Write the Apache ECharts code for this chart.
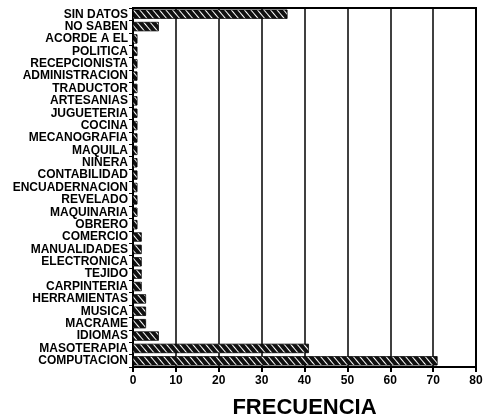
<!DOCTYPE html>
<html><head><meta charset="utf-8">
<script src="https://cdn.jsdelivr.net/npm/echarts@6/dist/echarts.min.js"></script>
<style>html,body{margin:0;padding:0;background:#fff}#c{width:483px;height:417px}</style>
</head><body><div id="c"></div>
<script>
const categories = ["COMPUTACION","MASOTERAPIA","IDIOMAS","MACRAME","MUSICA","HERRAMIENTAS","CARPINTERIA","TEJIDO","ELECTRONICA","MANUALIDADES","COMERCIO","OBRERO","MAQUINARIA","REVELADO","ENCUADERNACION","CONTABILIDAD","NINERA","MAQUILA","MECANOGRAFIA","COCINA","JUGUETERIA","ARTESANIAS","TRADUCTOR","ADMINISTRACION","RECEPCIONISTA","POLITICA","ACORDE A EL","NO SABEN","SIN DATOS"];
const frecuencia = [71,41,6,3,3,3,2,2,2,2,2,1,1,1,1,1,1,1,1,1,1,1,1,1,1,1,1,6,36];
const xTicks = [0,10,20,30,40,50,60,70,80];

const chart = echarts.init(document.getElementById('c'));
chart.setOption({
  animation:false,
  grid:{left:133,right:7,top:8,bottom:50,show:true,borderColor:'#000',borderWidth:2,
    containLabel:false,outerBoundsMode:'none'},
  xAxis:{type:'value',min:0,max:80,interval:10,
    name:'FRECUENCIA',nameLocation:'middle',nameGap:30,
    nameTextStyle:{fontFamily:'Liberation Sans',fontWeight:'bold',fontSize:22,color:'#000'},
    axisLine:{show:true,lineStyle:{color:'#000',width:2}},
    axisTick:{show:true,length:5,lineStyle:{color:'#000',width:2}},
    axisLabel:{fontFamily:'Liberation Sans',fontWeight:'bold',fontSize:12,color:'#000',margin:8,
      formatter:v=>xTicks.includes(v)?String(v):''},
    splitLine:{show:true,lineStyle:{color:'#000',width:1.5}}},
  yAxis:{type:'category',data:categories,
    axisLine:{show:true,lineStyle:{color:'#000',width:2}},
    axisTick:{show:true,length:4,lineStyle:{color:'#000',width:1}},
    axisLabel:{fontFamily:'Liberation Sans',fontWeight:'bold',fontSize:12,color:'#000',margin:5,interval:0}},
  series:[{type:'bar',data:frecuencia,barWidth:9,
    itemStyle:{color:'#111',borderColor:'#000',borderWidth:0.5,
      decal:{symbol:'rect',color:'#fff',symbolSize:1,dashArrayX:[[1,4]],dashArrayY:[3,0],rotation:-0.7}}}]
});
</script></body></html>
